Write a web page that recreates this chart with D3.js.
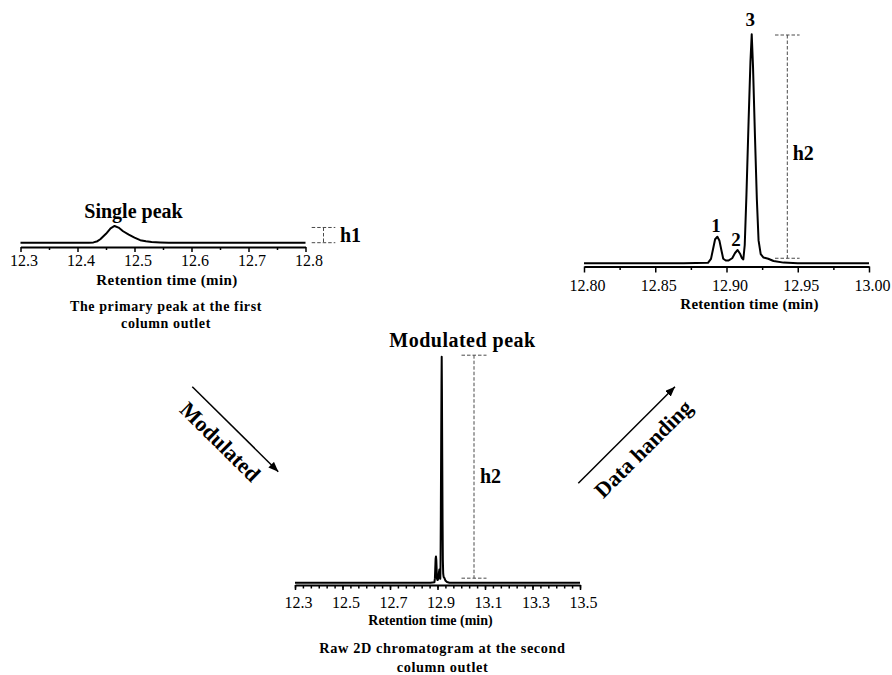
<!DOCTYPE html>
<html>
<head>
<meta charset="utf-8">
<script src="https://cdn.jsdelivr.net/npm/d3@7"></script>
<style>
  html, body { margin: 0; padding: 0; background: #fff; }
  svg { display: block; }
</style>
</head>
<body>
<svg id="chart" width="892" height="675"></svg>
<script>
// ---- Data -------------------------------------------------------------
// Primary (first-dimension) peak; intensity in % of the modulated apex
const primaryTime = [12.30, 12.42, 12.428, 12.435, 12.44, 12.45, 12.458, 12.465, 12.472, 12.48,
                     12.49, 12.50, 12.51, 12.52, 12.53, 12.545, 12.56, 12.80];
const primaryIntensity = [0, 0, 0.13, 0.66, 1.5, 3.9, 6.3, 7.3, 6.6, 5.0,
                          3.5, 2.2, 1.1, 0.6, 0.3, 0.13, 0, 0];

// Modulated (second-dimension) trace, intensity in %
const modTime = [12.30, 12.80, 12.870, 12.8870, 12.8891, 12.8905, 12.8920, 12.8936, 12.8950, 12.8965,
                 12.8977, 12.8995, 12.9013, 12.9040, 12.9060, 12.9078, 12.9095, 12.9108, 12.9118, 12.9128,
                 12.9140, 12.9155, 12.9168, 12.9177, 12.9186, 12.9200, 12.9213, 12.9225, 12.9240, 12.9260,
                 12.9293, 12.9330, 12.9400, 12.9500, 13.00, 13.50];
const modIntensity = [0, 0, 0, 0.2, 1.9, 6, 10.5, 11.6, 10, 5.5,
                      2, 1.2, 1.2, 2.2, 4.5, 5.8, 4.2, 2.3, 1.7, 8,
                      30, 62, 88, 100, 86, 55, 28, 10, 4, 2.5,
                      2, 1, 0.3, 0, 0, 0];

// Labelled compounds in the modulated peak
const peakLabels = ["1", "2", "3"];
const peakTimes = [12.8936, 12.9078, 12.9177];

// Axis tick values
const primaryTicks = [12.3, 12.4, 12.5, 12.6, 12.7, 12.8];
const primaryMinor = [12.35, 12.45, 12.55, 12.65, 12.75];
const zoomTicks = [12.80, 12.85, 12.90, 12.95, 13.00];
const zoomMinor = [12.825, 12.875, 12.925, 12.975];
const rawTicks = [12.3, 12.5, 12.7, 12.9, 13.1, 13.3, 13.5];
const rawMinor = d3.range(0, 37).map(i => +(12.3 + i / 30).toFixed(4));

// ---- Drawing ----------------------------------------------------------
const FONT = '"Liberation Serif", "Times New Roman", serif';
const svg = d3.select("#chart");
svg.append("rect").attr("width", 892).attr("height", 675).attr("fill", "#fff");

function txt(parent, x, y, s, size, weight, anchor) {
  return parent.append("text")
    .attr("x", x).attr("y", y)
    .attr("text-anchor", anchor || "start")
    .attr("fill", "#000")
    .style("font-family", FONT)
    .style("font-size", size + "px")
    .style("font-weight", weight || "normal")
    .text(s);
}

function panel(cfg) {
  const g = svg.append("g");
  const x = d3.scaleLinear().domain(cfg.domain).range([cfg.x0, cfg.x1]);
  const y = d3.scaleLinear().domain([0, 100]).range([cfg.base, cfg.top]);

  // minor ticks
  const minorAxis = g.append("g")
    .attr("transform", `translate(0,${cfg.axisY})`)
    .call(d3.axisBottom(x).tickValues(cfg.minor).tickSize(cfg.minorLen).tickSizeOuter(0).tickFormat(""));
  minorAxis.select(".domain").remove();
  minorAxis.selectAll(".tick line").attr("stroke", "#000").attr("stroke-width", 1.5);

  // major ticks with labels
  const ax = g.append("g")
    .attr("transform", `translate(0,${cfg.axisY})`)
    .call(d3.axisBottom(x).tickValues(cfg.major).tickSize(cfg.majorLen).tickSizeOuter(0)
      .tickFormat(d3.format(cfg.fmt)));
  ax.attr("font-family", null).attr("font-size", null);
  ax.select(".domain").attr("stroke", "#000").attr("stroke-width", 2);
  ax.selectAll(".tick line").attr("stroke", "#000").attr("stroke-width", 1.5);
  ax.selectAll(".tick text")
    .attr("y", cfg.labelY).attr("dy", 0).attr("dx", 3)
    .attr("fill", "#000")
    .style("font-family", FONT)
    .style("font-size", "16px");

  // axis title
  txt(g, cfg.titleX, cfg.axisY + cfg.titleY, "Retention time (min)", cfg.titleSize, "bold", "middle")
    .style("letter-spacing", cfg.titleSpacing + "px");

  // trace
  const pts = cfg.time.map((t, i) => [t, cfg.val[i]])
    .filter(d => d[0] >= cfg.domain[0] - 1e-9 && d[0] <= cfg.domain[1] + 1e-9);
  g.append("path")
    .datum(pts)
    .attr("d", d3.line().x(d => x(d[0])).y(d => y(d[1])))
    .attr("fill", "none").attr("stroke", "#000")
    .attr("stroke-width", cfg.lineW).attr("stroke-linejoin", "round");

  return { g, x, y };
}

function heightBracket(g, xc, yTop, yBot, half, label, lx, ly) {
  const add = (x1, y1, x2, y2) => g.append("line")
    .attr("x1", x1).attr("y1", y1).attr("x2", x2).attr("y2", y2)
    .attr("stroke", "#4a4a4a").attr("stroke-width", 1).attr("stroke-dasharray", "3.5,2");
  add(xc - half, yTop, xc + half, yTop);
  add(xc - half, yBot, xc + half, yBot);
  add(xc, yTop, xc, yBot);
  txt(g, lx, ly, label, 20, "bold");
}

function caption(lines, cx, y0, step, size) {
  lines.forEach((t, i) => {
    txt(svg, cx, y0 + i * step, t, size, "bold", "middle").style("letter-spacing", "0.6px");
  });
}

// Panel A: primary peak
const A = panel({
  domain: [12.3, 12.8], x0: 20.5, x1: 305.5, base: 242.7, top: 13.7, axisY: 247,
  major: primaryTicks, minor: primaryMinor, majorLen: 5, minorLen: 3, fmt: ".1f",
  labelY: 19, titleX: 167, titleY: 37.5, titleSize: 15, titleSpacing: 0.4,
  time: primaryTime, val: primaryIntensity, lineW: 2
});
txt(A.g, 133.5, 218, "Single peak", 20, "bold", "middle");
heightBracket(A.g, 323.5, A.y(d3.max(primaryIntensity)) + 1.5, A.y(0), 11.8, "h1", 340, 241.7);
caption(["The primary peak at the first", "column outlet"], 166, 311, 17, 14);

// Panel B: zoom on the modulated peak
const B = panel({
  domain: [12.80, 13.00], x0: 584, x1: 869, base: 263.3, top: 34.3, axisY: 266.5,
  major: zoomTicks, minor: zoomMinor, majorLen: 6, minorLen: 3.5, fmt: ".2f",
  labelY: 24, titleX: 749.5, titleY: 42.8, titleSize: 15, titleSpacing: 0.25,
  time: modTime, val: modIntensity, lineW: 2
});
peakLabels.forEach((lab, i) => {
  const v = modIntensity[modTime.indexOf(peakTimes[i])];
  txt(B.g, B.x(peakTimes[i]) - 1.5, B.y(v) - (i === 2 ? 8 : 4.5), lab, 19, "bold", "middle");
});
heightBracket(B.g, 787.3, B.y(100) + 0.7, B.y(2.2), 12.3, "h2", 792.7, 160);

// Panel C: raw 2D chromatogram
const C = panel({
  domain: [12.3, 13.5], x0: 295, x1: 580, base: 582.7, top: 356.7, axisY: 585,
  major: rawTicks, minor: rawMinor, majorLen: 5, minorLen: 3.5, fmt: ".1f",
  labelY: 23.3, titleX: 430.5, titleY: 40, titleSize: 14, titleSpacing: 0,
  time: modTime, val: modIntensity, lineW: 2
});
txt(C.g, 462.5, 346.7, "Modulated peak", 20, "bold", "middle").style("letter-spacing", "0.5px");
heightBracket(C.g, 474, C.y(100) - 1.5, C.y(2), 12.5, "h2", 480, 483.3);
caption(["Raw 2D chromatogram at the second", "column outlet"], 442.5, 653.3, 19, 14.3);

// ---- Process arrows ---------------------------------------------------
const defs = svg.append("defs");
defs.append("marker").attr("id", "head")
  .attr("viewBox", "0 0 10 8").attr("refX", 10).attr("refY", 4)
  .attr("markerWidth", 10).attr("markerHeight", 8).attr("markerUnits", "userSpaceOnUse")
  .attr("orient", "auto")
  .append("path").attr("d", "M0,0L10,4L0,8Z").attr("fill", "#000");

function processArrow(x1, y1, x2, y2, label, offset) {
  svg.append("line").attr("x1", x1).attr("y1", y1).attr("x2", x2).attr("y2", y2)
    .attr("stroke", "#000").attr("stroke-width", 1.5).attr("marker-end", "url(#head)");
  const ang = Math.atan2(y2 - y1, x2 - x1) * 180 / Math.PI;
  const mx = (x1 + x2) / 2, my = (y1 + y2) / 2;
  txt(svg, offset[0], offset[1], label, 22, "bold", "middle")
    .attr("transform", `translate(${mx},${my}) rotate(${ang})`);
}
processArrow(192.3, 386.7, 278.3, 471.7, "Modulated", [-2, 27]);
processArrow(578.3, 483.3, 675, 386.7, "Data handing", [2, 29]);
</script>
</body>
</html>
